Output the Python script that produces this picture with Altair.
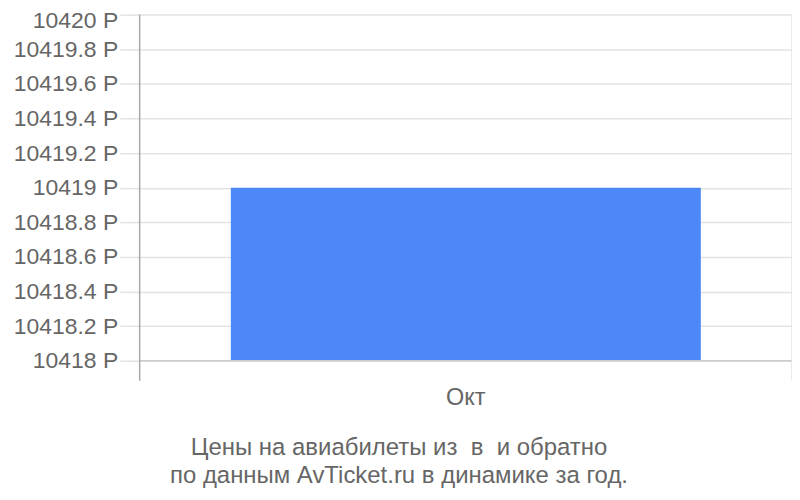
import altair as alt
import pandas as pd

months = ["Окт"]
prices = [10419]
y_ticks = [10418, 10418.2, 10418.4, 10418.6, 10418.8, 10419, 10419.2, 10419.4, 10419.6, 10419.8, 10420]
title_lines = ["Цены на авиабилеты из \u00a0в \u00a0и обратно", "по данным AvTicket.ru в динамике за год."]

df = pd.DataFrame({"month": months, "price": prices, "base": [y_ticks[0]] * len(months)})

W, H = 654, 367
FONT = "Liberation Sans"

yscale = alt.Scale(domain=[y_ticks[0], y_ticks[-1]], range=[347, 0], zero=False, nice=False)
yaxis = alt.Axis(title=None, values=y_ticks, domain=False,
                 grid=True, gridColor="#e3e3e3", gridWidth=1.5,
                 tickColor="#e3e3e3", tickSize=20, tickWidth=1.5,
                 labelOverlap=False, labelFlush=False,
                 labelOffset={"condition": {"test": "datum.value >= 10420", "value": 6}, "value": 0},
                 labelExpr="format(datum.value, '~f') + ' Р'",
                 labelFont=FONT, labelFontSize=23, labelColor="#666666",
                 labelPadding=2)

bars = alt.Chart(df).mark_bar(color="#4d88f9").encode(
    x=alt.X("month:N", sort=months,
            scale=alt.Scale(paddingInner=0, paddingOuter=0.194),
            axis=alt.Axis(title=None, domain=False, ticks=False, labelAngle=0,
                          labelFont=FONT, labelFontSize=23.5, labelColor="#666666",
                          labelPadding=5)),
    y=alt.Y("price:Q", scale=yscale, axis=yaxis),
    y2="base:Q",
)

left_rule = alt.Chart(df).mark_rule(color="#a8a8a8", strokeWidth=1.5).encode(
    x=alt.value(0), y=alt.value(0), y2=alt.value(H))
right_rule = alt.Chart(df).mark_rule(color="#e3e3e3", strokeWidth=1.5).encode(
    x=alt.value(W), y=alt.value(0), y2=alt.value(H))
base_rule = alt.Chart(df).mark_rule(color="#cccccc", strokeWidth=1.5).encode(
    y=alt.Y("base:Q", scale=yscale, axis=yaxis), x=alt.value(0), x2=alt.value(W))

chart = alt.layer(bars, base_rule, left_rule, right_rule).properties(
    width=W, height=H,
    autosize=alt.AutoSizeParams(type="none"),
    padding={"left": 132, "top": 6, "right": 0, "bottom": 111},
    title=alt.TitleParams(text=title_lines, orient="bottom", anchor="middle",
                          dx=-67, offset=27, font=FONT, fontSize=24,
                          fontWeight="normal", color="#666666", lineHeight=28),
).configure_view(stroke=None)

chart.save("out.html", embed_options={"renderer": "svg", "actions": False})
